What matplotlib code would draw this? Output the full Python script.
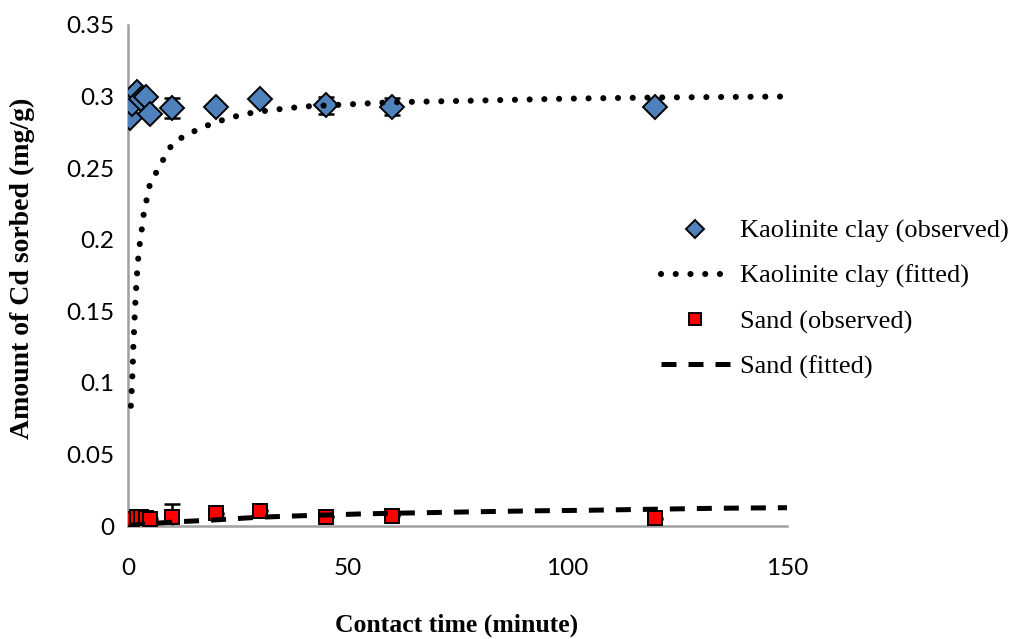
import matplotlib
matplotlib.use("Agg")
import matplotlib.pyplot as plt

# Contact times (minutes) of the batch sorption samples
time_obs = [0.5, 1, 2, 3, 4, 5, 10, 20, 30, 45, 60, 120]

# Observed Cd sorbed (mg/g) with standard deviations
kaolinite_obs = [0.285, 0.295, 0.303, 0.298, 0.300, 0.288, 0.292, 0.293, 0.298, 0.294, 0.293, 0.2925]
kaolinite_err = [0.002, 0.002, 0.002, 0.002, 0.002, 0.002, 0.007, 0.002, 0.002, 0.006, 0.006, 0.001]
sand_obs = [0.0020, 0.0050, 0.0065, 0.0060, 0.0055, 0.0050, 0.0065, 0.0089, 0.0107, 0.0065, 0.0072, 0.0054]
sand_err = [0.0005, 0.0005, 0.0005, 0.0005, 0.0005, 0.0005, 0.0090, 0.0005, 0.0005, 0.0005, 0.0005, 0.0005]

# Fitted kinetic curves
kaolinite_fit_t = [0.65, 0.85, 1.0, 1.1, 1.2, 1.3, 1.45, 1.6, 1.75, 1.95, 2.2, 2.5, 2.95, 3.3,
                   3.7, 4.25, 5.0, 6.8, 8.4, 10.1, 13.1, 16, 19, 23, 27, 30, 34, 40, 60, 77,
                   100, 120, 150]
kaolinite_fit_q = [0.084, 0.095, 0.105, 0.114, 0.124, 0.131, 0.141, 0.152, 0.161, 0.171, 0.182,
                   0.193, 0.203, 0.211, 0.221, 0.228, 0.239, 0.249, 0.258, 0.267, 0.273, 0.277,
                   0.281, 0.285, 0.288, 0.2895, 0.291, 0.293, 0.296, 0.297, 0.2985, 0.2993, 0.300]
sand_fit_t = [0.5, 3, 6.6, 11.5, 19.5, 29.5, 37.5, 45, 52.5, 60, 67.5, 80, 92, 104.5, 119, 134, 150]
sand_fit_q = [0.0005, 0.0012, 0.0020, 0.0030, 0.0042, 0.0061, 0.0070, 0.0077, 0.0084, 0.0089,
              0.0093, 0.0100, 0.0106, 0.0110, 0.0117, 0.0124, 0.0128]

x_ticks = [0, 50, 100, 150]
y_ticks = [0, 0.05, 0.1, 0.15, 0.2, 0.25, 0.3, 0.35]
y_tick_labels = ["0", "0.05", "0.1", "0.15", "0.2", "0.25", "0.3", "0.35"]

fig = plt.figure(figsize=(10.11, 6.39), dpi=100)
ax = fig.add_axes([0.1266, 0.1768, 0.6518, 0.7842])

blue = "#4F81BD"
red = "#FF0000"

ax.errorbar(time_obs, kaolinite_obs, yerr=kaolinite_err, fmt="none", ecolor="black",
            elinewidth=1.8, capsize=6, capthick=1.8, zorder=2)
ax.plot(time_obs, kaolinite_obs, linestyle="none", marker="D", markersize=12,
        markerfacecolor=blue, markeredgecolor="black", markeredgewidth=1.4, zorder=3,
        label="Kaolinite clay (observed)")
ax.plot(kaolinite_fit_t, kaolinite_fit_q, color="black", linewidth=4.4,
        linestyle=(0, (0.01, 2.4)), dash_capstyle="round", zorder=4,
        label="Kaolinite clay (fitted)")

ax.errorbar(time_obs, sand_obs, yerr=sand_err, fmt="none", ecolor="black",
            elinewidth=1.8, capsize=6, capthick=1.8, zorder=2)
ax.plot(time_obs, sand_obs, linestyle="none", marker="s", markersize=10,
        markerfacecolor=red, markeredgecolor="black", markeredgewidth=1.4, zorder=3,
        label="Sand (observed)")
ax.plot(sand_fit_t, sand_fit_q, color="black", linewidth=3.6,
        linestyle=(0, (3.0, 2.4)), dash_capstyle="butt", zorder=4,
        label="Sand (fitted)")

ax.set_xlim(0, 150)
ax.set_ylim(0, 0.35)
ax.set_xticks(x_ticks)
ax.set_yticks(y_ticks)
ax.set_yticklabels(y_tick_labels)
ax.tick_params(length=0, labelsize=17.5)
for lab in ax.get_xticklabels() + ax.get_yticklabels():
    lab.set_fontfamily("Lato")
ax.tick_params(axis="y", pad=10)
ax.tick_params(axis="x", pad=23)

for side in ("top", "right"):
    ax.spines[side].set_visible(False)
for side in ("left", "bottom"):
    ax.spines[side].set_color("#A0A0A0")
    ax.spines[side].set_linewidth(1.8)

fig.text(0.452, 0.022, "Contact time (minute)", ha="center", va="center",
         family="Liberation Serif", weight="bold", size=18.5)
fig.text(0.022, 0.58, "Amount of Cd sorbed (mg/g)", ha="center", va="center",
         rotation=90, family="Liberation Serif", weight="bold", size=20)

leg = ax.legend(loc="center left", bbox_to_anchor=(0.654, 0.532), bbox_transform=fig.transFigure,
                frameon=False, prop=dict(family="Liberation Serif", size=19),
                handlelength=2.6, handletextpad=0.4, labelspacing=0.8, markerscale=0.8,
                borderpad=0, borderaxespad=0)

fig.savefig("out.png", dpi=100)
